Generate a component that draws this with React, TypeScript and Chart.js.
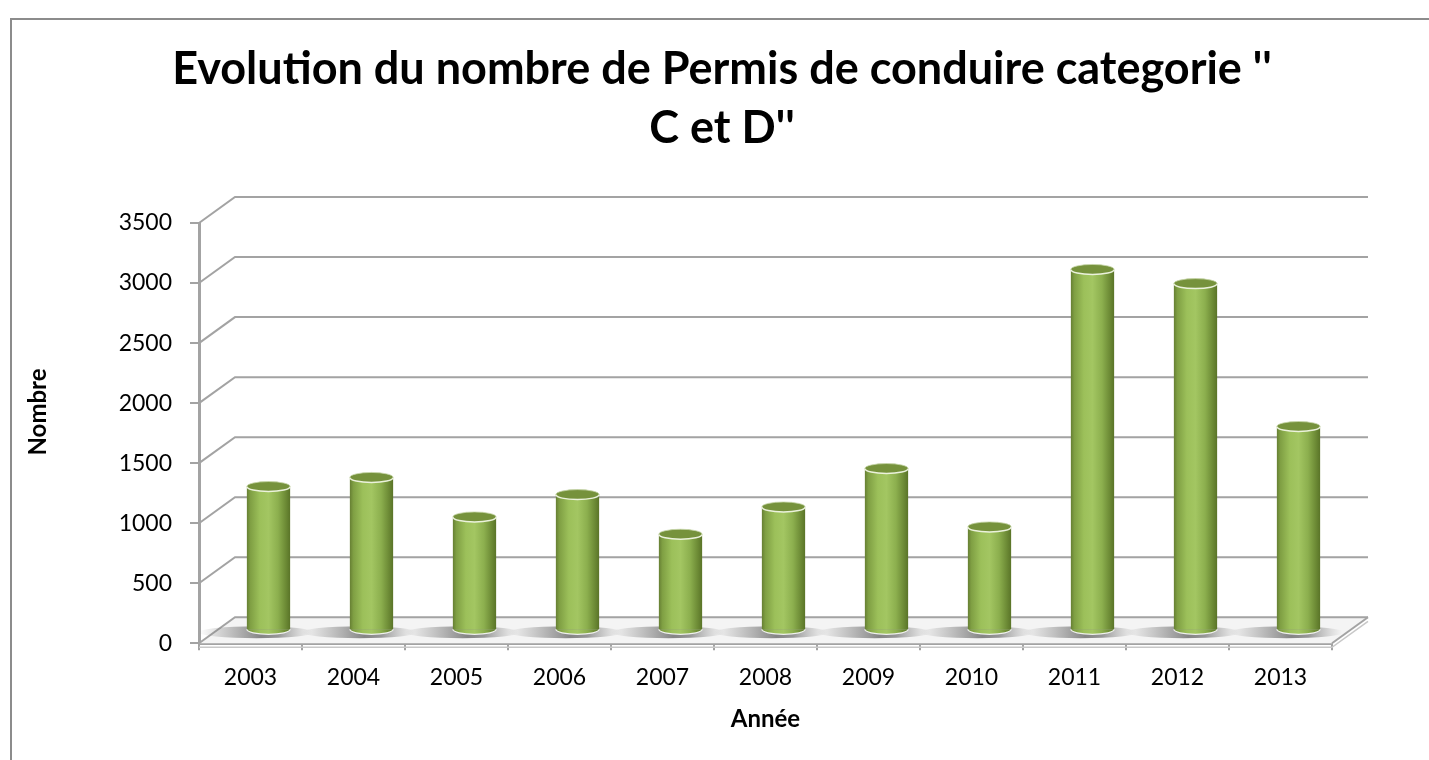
import React, { useEffect, useRef } from 'react';
import { Chart, registerables } from 'chart.js';

Chart.register(...registerables);

const years = ['2003', '2004', '2005', '2006', '2007', '2008', '2009', '2010', '2011', '2012', '2013'];
const permits = [1197, 1273, 944, 1130, 800, 1027, 1347, 861, 3005, 2887, 1697];
const yMin = 0;
const yMax = 3500;
const yStep = 500;
const titleLines = ["Evolution du nombre de Permis de conduire categorie ''", "C et D''"];
const xTitle = 'Année';
const yTitle = 'Nombre';

const DX = 36;
const DY = 26;
const BAR_PCT = 0.42;
const ELL_RY = 5;
const GRID = '#a3a3a3';

function cylGradient(ctx: CanvasRenderingContext2D, cx: number, w: number) {
  const g = ctx.createLinearGradient(cx - w / 2, 0, cx + w / 2, 0);
  g.addColorStop(0, '#667f33');
  g.addColorStop(0.08, '#7f9f43');
  g.addColorStop(0.3, '#9cc05a');
  g.addColorStop(0.5, '#a3c662');
  g.addColorStop(0.72, '#8caf4e');
  g.addColorStop(0.9, '#6c8a35');
  g.addColorStop(1, '#5a7428');
  return g;
}

const threeD = {
  id: 'threeD',
  beforeDraw(chart: any) {
    const { ctx } = chart;
    ctx.save();
    ctx.fillStyle = '#ffffff';
    ctx.fillRect(0, 0, chart.width, chart.height);
    ctx.strokeStyle = '#8c8c8c';
    ctx.lineWidth = 2;
    ctx.beginPath();
    ctx.moveTo(11, chart.height + 2);
    ctx.lineTo(11, 19);
    ctx.lineTo(chart.width + 2, 19);
    ctx.stroke();
    // y axis title
    ctx.translate(38, 412);
    ctx.rotate(-Math.PI / 2);
    ctx.fillStyle = '#000';
    ctx.font = 'bold 24px Lato';
    ctx.textAlign = 'center';
    ctx.textBaseline = 'middle';
    ctx.fillText(yTitle, 0, 0);
    ctx.restore();
  },
  beforeDatasetsDraw(chart: any) {
    const { ctx, chartArea: a, scales } = chart;
    const ys = scales.y;
    const y0 = ys.getPixelForValue(0);
    ctx.save();
    // floor slab
    ctx.fillStyle = '#f4f4f4';
    ctx.beginPath();
    ctx.moveTo(a.left, y0);
    ctx.lineTo(a.right, y0);
    ctx.lineTo(a.right + DX, y0 - DY);
    ctx.lineTo(a.left + DX, y0 - DY);
    ctx.closePath();
    ctx.fill();
    ctx.strokeStyle = '#c8c8c8';
    ctx.lineWidth = 1.5;
    ctx.beginPath();
    ctx.moveTo(a.left, y0 + 4);
    ctx.lineTo(a.right, y0 + 4);
    ctx.lineTo(a.right + DX, y0 - DY + 4);
    ctx.stroke();
    // back wall gridlines + left wall diagonals
    ctx.strokeStyle = GRID;
    ctx.lineWidth = 2;
    ys.ticks.forEach((t: any) => {
      const yy = ys.getPixelForValue(t.value);
      ctx.beginPath();
      ctx.moveTo(a.left, yy);
      ctx.lineTo(a.left + DX, yy - DY);
      ctx.lineTo(a.right + DX, yy - DY);
      ctx.stroke();
    });
    ctx.beginPath();
    ctx.moveTo(a.right, y0);
    ctx.lineTo(a.right + DX, y0 - DY);
    ctx.stroke();
    // floor shadows
    const meta = chart.getDatasetMeta(0);
    meta.data.forEach((el: any) => {
      const p = el.getProps(['x', 'width'], true);
      const cx = p.x + DX / 2;
      const cy = y0 - DY / 2 + 2;
      const g = ctx.createLinearGradient(cx - p.width / 2 - 48, 0, cx + p.width / 2 + 22, 0);
      g.addColorStop(0, 'rgba(120,120,120,0)');
      g.addColorStop(0.55, 'rgba(95,95,95,0.75)');
      g.addColorStop(0.7, 'rgba(110,110,110,0.7)');
      g.addColorStop(1, 'rgba(150,150,150,0)');
      ctx.fillStyle = g;
      ctx.beginPath();
      ctx.ellipse(cx - 12, cy, p.width / 2 + 36, 6, 0, 0, Math.PI * 2);
      ctx.fill();
    });
    ctx.restore();
    ctx.save();
    ctx.translate(DX / 2, -DY / 2);
  },
  afterDatasetsDraw(chart: any) {
    const { ctx } = chart;
    const meta = chart.getDatasetMeta(0);
    meta.data.forEach((el: any) => {
      const p = el.getProps(['x', 'y', 'base', 'width'], true);
      const rx = p.width / 2;
      // bottom rounded
      ctx.fillStyle = cylGradient(ctx, p.x, p.width);
      ctx.beginPath();
      ctx.ellipse(p.x, p.base, rx, ELL_RY, 0, 0, Math.PI);
      ctx.fill();
      ctx.strokeStyle = 'rgba(255,255,255,0.85)';
      ctx.lineWidth = 1.2;
      ctx.beginPath();
      ctx.ellipse(p.x, p.base, rx, ELL_RY, 0, 0, Math.PI);
      ctx.stroke();
      // top cap
      ctx.fillStyle = '#76923c';
      ctx.beginPath();
      ctx.ellipse(p.x, p.y, rx, ELL_RY, 0, 0, Math.PI * 2);
      ctx.fill();
      ctx.strokeStyle = 'rgba(240,246,228,0.95)';
      ctx.lineWidth = 1.5;
      ctx.beginPath();
      ctx.ellipse(p.x, p.y, rx, ELL_RY, 0, 0, Math.PI);
      ctx.stroke();
      ctx.strokeStyle = 'rgba(200,215,170,0.8)';
      ctx.lineWidth = 1;
      ctx.beginPath();
      ctx.ellipse(p.x, p.y, rx, ELL_RY, 0, Math.PI, Math.PI * 2);
      ctx.stroke();
    });
    ctx.restore();
  },
};

export default function App() {
  const ref = useRef<HTMLCanvasElement | null>(null);
  useEffect(() => {
    if (!ref.current) return;
    const chart = new Chart(ref.current, {
      type: 'bar',
      data: {
        labels: years,
        datasets: [
          {
            label: yTitle,
            data: permits,
            backgroundColor: (c: any) => {
              const ch = c.chart;
              const xs = ch.scales && ch.scales.x;
              if (c.type !== 'data' || !xs || !ch.chartArea) return '#9bbb59';
              const cx = xs.getPixelForValue(c.dataIndex);
              const w = (xs.width / years.length) * BAR_PCT;
              return cylGradient(ch.ctx, cx, w);
            },
            borderWidth: 0,
            barPercentage: BAR_PCT,
            categoryPercentage: 1,
          },
        ],
      },
      options: {
        responsive: false,
        animation: false,
        devicePixelRatio: 1,
        layout: { padding: { left: 112, right: 97, top: 0, bottom: 0 } },
        plugins: {
          legend: { display: false },
          tooltip: { enabled: false },
          title: {
            display: true,
            text: titleLines,
            color: '#000',
            font: { family: 'Lato', weight: 'bold', size: 45, lineHeight: 59 / 45 },
            padding: { top: 40, bottom: 65 },
          },
        },
        scales: {
          x: {
            grid: { offset: true, drawOnChartArea: false, tickLength: 7, color: GRID, lineWidth: 2 },
            border: { color: GRID, width: 3 },
            ticks: { color: '#000', font: { family: 'Lato', size: 23 }, padding: 13, maxRotation: 0 },
            title: {
              display: true,
              text: xTitle,
              color: '#000',
              font: { family: 'Lato', weight: 'bold', size: 24, lineHeight: 1.2 },
              padding: { top: 0, bottom: 26 },
            },
            afterFit: (s: any) => {
              s.height = 116.7;
            },
          },
          y: {
            min: yMin,
            max: yMax,
            grid: { drawOnChartArea: false, tickLength: 9, color: GRID, lineWidth: 2 },
            border: { color: GRID, width: 3 },
            ticks: {
              stepSize: yStep,
              color: '#000',
              font: { family: 'Lato', size: 23 },
              padding: 18,
              callback: (v: any) => String(v),
            },
            afterFit: (s: any) => {
              s.width = 87;
            },
          },
        },
      },
      plugins: [threeD],
    });
    return () => chart.destroy();
  }, []);
  return (
    <div style={{ position: 'absolute', left: 0, top: 0, width: 1429, height: 760, background: '#fff' }}>
      <canvas ref={ref} width={1429} height={760} style={{ display: 'block', width: 1429, height: 760 }} />
    </div>
  );
}
